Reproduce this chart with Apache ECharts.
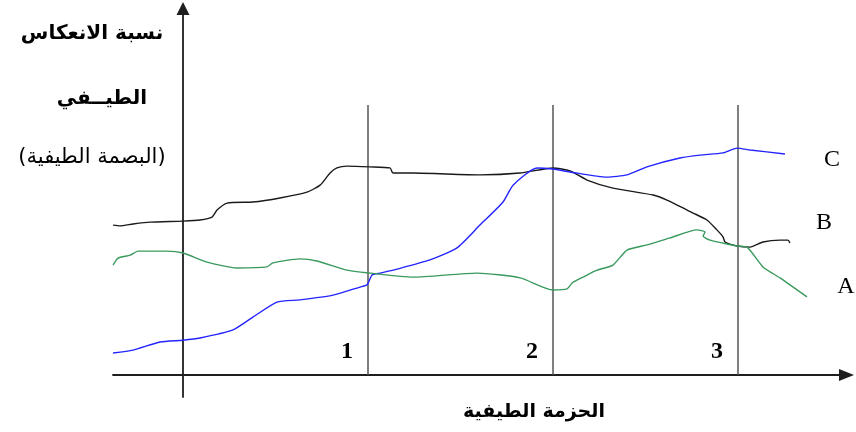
<!DOCTYPE html>
<html>
<head>
<meta charset="utf-8">
<script src="https://cdn.jsdelivr.net/npm/echarts@6/dist/echarts.min.js"></script>
<style>html,body{margin:0;padding:0;background:#fff}#c{width:856px;height:432px}</style>
</head>
<body>
<div id="c"></div>
<script>
// ---- data (x: spectral band position, y: reflectance) ----
const curveB = [[-37.8,40.9],[-34.1,40.7],[-27.0,41.2],[-17.8,41.7],[0,42.0],[9.2,42.3],[15.7,43.1],[18.4,45.0],[23.8,46.9],[37.8,47.2],[52.4,48.3],[67.0,49.9],[74.1,51.8],[79.5,55.1],[83.2,56.5],[88.6,57.0],[101.1,56.8],[111.9,56.5],[113.0,55.4],[113.5,55.1],[124.3,55.1],[160.5,54.6],[182.2,55.1],[200.0,56.5],[209.2,55.7],[218.4,53.2],[232.4,51.0],[254.1,49.1],[261.6,47.7],[275.7,44.2],[283.2,42.3],[288.6,39.6],[291.9,37.7],[293.0,36.3],[299.5,35.2],[306.5,34.9],[313.5,36.3],[322.7,36.8],[327.0,36.8],[328.1,36.0]];
const curveC = [[-37.8,6.0],[-27.0,6.8],[-12.4,9.0],[0,9.5],[9.2,10.1],[27.0,12.3],[37.8,15.8],[50.8,19.9],[63.2,20.5],[81.1,21.8],[95.7,24.0],[99.5,24.6],[102.2,27.3],[106.5,27.8],[115.7,28.9],[133.5,31.4],[148.1,34.7],[160.5,40.9],[173.0,47.2],[178.4,51.8],[191.4,56.5],[200.0,56.2],[209.2,55.4],[229.2,54.0],[240.0,54.6],[250.8,56.8],[268.6,59.2],[279.5,60.0],[291.9,60.6],[299.5,61.9],[306.5,61.4],[325.4,60.3]];
const curveA = [[-37.8,30.0],[-35.1,31.9],[-28.6,32.7],[-24.3,33.8],[-8.6,33.8],[0,33.3],[13.0,30.8],[29.2,29.2],[45.4,29.5],[48.6,30.6],[63.2,31.7],[72.4,31.1],[88.6,28.6],[101.1,27.8],[124.3,26.7],[158.9,27.8],[182.2,26.5],[200.0,23.2],[207.6,23.5],[210.3,25.1],[216.2,26.7],[223.8,28.6],[232.4,30.0],[240.0,34.1],[250.8,35.5],[263.2,37.4],[277.8,39.6],[282.2,39.0],[281.1,37.9],[284.9,36.8],[299.5,35.2],[304.9,34.9],[313.5,29.5],[322.7,26.5],[337.3,21.3]];
const bandBoundaries = [100, 200, 300];
const bandLabels = ['1', '2', '3'];
const bandLineTop = 73.7;
const curveNames = ['A', 'B', 'C'];
const yTitleLines = ['نسبة الانعكاس', 'الطيــفي', '(البصمة الطيفية)'];
const xTitle = 'الحزمة الطيفية';

const chart = echarts.init(document.getElementById('c'), null, {renderer: 'canvas'});
const axisStyle = {color: '#1e1e1e', width: 1.8};
const series = [];
bandBoundaries.forEach(b => {
  series.push({type: 'line', data: [[b, 0], [b, bandLineTop]], showSymbol: false, silent: true,
    lineStyle: {color: '#555', width: 1.5}, z: 1});
});
series.push({name: 'B', type: 'line', data: curveB, showSymbol: false, smooth: 0.2,
  lineStyle: {color: '#1a1a1a', width: 1.4}, z: 3});
series.push({name: 'C', type: 'line', data: curveC, showSymbol: false, smooth: 0.2,
  lineStyle: {color: '#2424ff', width: 1.4}, z: 3});
series.push({name: 'A', type: 'line', data: curveA, showSymbol: false, smooth: 0.2,
  lineStyle: {color: '#3a9a5e', width: 1.4}, z: 3});

chart.setOption({
  animation: false,
  backgroundColor: '#fff',
  grid: {left: 113, right: 9.5, top: 8.5, bottom: 35, containLabel: false},
  xAxis: {type: 'value', min: -37.84, max: 358.65,
    axisLine: {onZero: true, lineStyle: axisStyle, symbol: ['none', 'triangle'], symbolSize: [12, 15]},
    axisTick: {show: false}, axisLabel: {show: false}, splitLine: {show: false}},
  yAxis: {type: 'value', min: -6, max: 100,
    axisLine: {show: true, onZero: true, lineStyle: axisStyle, symbol: ['none', 'triangle'], symbolSize: [13, 13]},
    axisTick: {show: false}, axisLabel: {show: false}, splitLine: {show: false}},
  series: series
});

const graphics = [];
const arFont = 'DejaVu Sans';
graphics.push({type: 'text', x: 92, y: 34, style: {text: yTitleLines[0], fill: '#000', align: 'center', verticalAlign: 'middle', font: 'bold 20px "' + arFont + '"'}});
graphics.push({type: 'text', x: 102, y: 99, style: {text: yTitleLines[1], fill: '#000', align: 'center', verticalAlign: 'middle', font: 'bold 20px "' + arFont + '"'}});
graphics.push({type: 'text', x: 92, y: 158, style: {text: yTitleLines[2], fill: '#000', align: 'center', verticalAlign: 'middle', font: '21px "' + arFont + '"'}});
graphics.push({type: 'text', x: 534, y: 412, style: {text: xTitle, fill: '#000', align: 'center', verticalAlign: 'middle', font: 'bold 19px "' + arFont + '"'}});
bandBoundaries.forEach((b, i) => {
  const p = chart.convertToPixel({gridIndex: 0}, [b, 0]);
  graphics.push({type: 'text', x: p[0] - 21, y: p[1] - 23, style: {text: bandLabels[i], fill: '#000', align: 'center', verticalAlign: 'middle', font: 'bold 24px "Liberation Serif"'}});
});
const letterPos = {C: [832, 160], B: [824, 223], A: [846, 287]};
curveNames.forEach(n => {
  graphics.push({type: 'text', x: letterPos[n][0], y: letterPos[n][1], style: {text: n, fill: '#000', align: 'center', verticalAlign: 'middle', font: '24px "Liberation Serif"'}});
});
chart.setOption({graphic: graphics});
</script>
</body>
</html>
